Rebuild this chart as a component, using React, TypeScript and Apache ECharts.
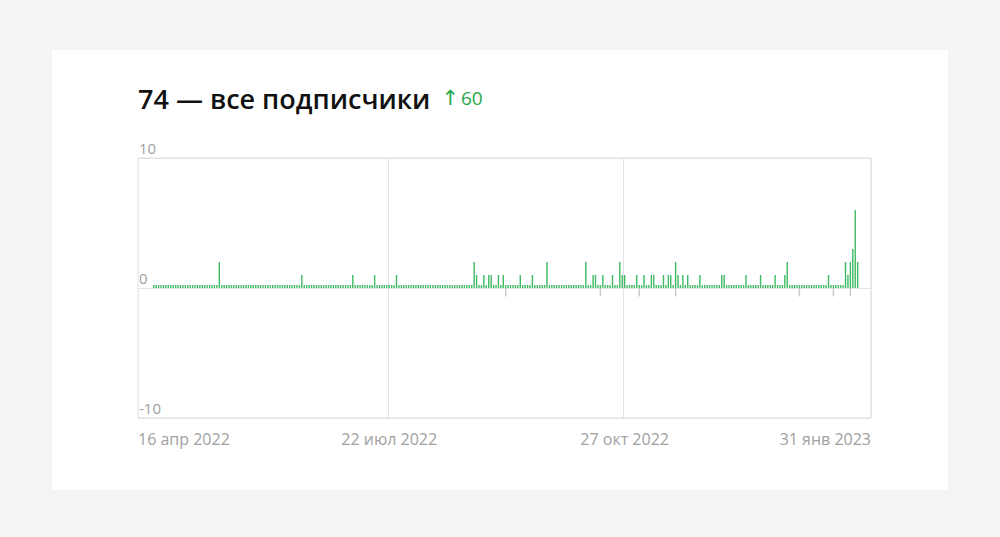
import React, { useEffect, useRef } from 'react';
import * as echarts from 'echarts';

// Headline numbers
const TOTAL_SUBSCRIBERS = 74;
const PERIOD_GROWTH = 60;

// Daily category axis: 10 Apr 2022 .. 5 Feb 2023 (a few empty days pad each side)
const AXIS_START_UTC = Date.UTC(2022, 3, 10);
const AXIS_DAYS = 302;
// Days that carry data: 16 Apr 2022 .. 31 Jan 2023
const DATA_FIRST_INDEX = 6;
const DATA_DAYS = 291;

// New subscribers: day offset from 16 Apr 2022 and count for that day
const joinDays = [
  27, 61, 82, 91, 100, 132, 133, 136, 138, 139, 142, 144, 151, 156, 162, 178, 181, 182, 185, 189,
  192, 193, 194, 199, 202, 205, 206, 210, 212, 213, 215, 216, 218, 220, 225, 234, 235, 244, 250,
  256, 260, 261, 278, 285, 286, 287, 288, 289, 290,
];
const joinCounts = [
  2, 1, 1, 1, 1, 2, 1, 1, 1, 1, 1, 1, 1, 1, 2, 2, 1, 1, 1, 1,
  2, 1, 1, 1, 1, 1, 1, 1, 1, 1, 2, 1, 1, 1, 1, 1, 1, 1, 1,
  1, 1, 2, 1, 2, 1, 2, 3, 6, 2,
];

// Unsubscribes: day offset from 16 Apr 2022 and drawn value
const leaveDays = [145, 184, 200, 215, 266, 280, 287];
const leaveValues = [-0.65, -0.65, -0.65, -0.65, -0.65, -0.65, -0.65];

// Dates that get an x label, and dates that get a vertical guide
const labelDates = ['2022-04-16', '2022-07-22', '2022-10-27', '2023-01-31'];
const guideDates = ['2022-07-22', '2022-10-27'];

const Y_MIN = -10;
const Y_MAX = 10;
const Y_STEP = 10;

const MONTHS = ['янв', 'фев', 'мар', 'апр', 'май', 'июн', 'июл', 'авг', 'сен', 'окт', 'ноя', 'дек'];

const GRID = { left: 138, top: 158, width: 733, height: 260 };
const FONT = '"Open Sans", "Noto Sans", sans-serif';

function isoDay(i: number): string {
  return new Date(AXIS_START_UTC + i * 86400000).toISOString().slice(0, 10);
}

function ruDate(iso: string): string {
  const [y, m, d] = iso.split('-').map(Number);
  return `${d} ${MONTHS[m - 1]} ${y}`;
}

const categories = Array.from({ length: AXIS_DAYS }, (_, i) => isoDay(i));

const joined: (number | null)[] = categories.map((_, i) =>
  i >= DATA_FIRST_INDEX && i < DATA_FIRST_INDEX + DATA_DAYS ? 0 : null
);
joinDays.forEach((d, k) => {
  joined[DATA_FIRST_INDEX + d] = joinCounts[k];
});

const left: (number | null)[] = categories.map(() => null);
leaveDays.forEach((d, k) => {
  left[DATA_FIRST_INDEX + d] = leaveValues[k];
});

export default function App() {
  const ref = useRef<HTMLDivElement>(null);

  useEffect(() => {
    if (!ref.current) return;
    const chart = echarts.init(ref.current, undefined, { renderer: 'svg' });

    const band = GRID.width / AXIS_DAYS;
    const firstIdx = categories.indexOf(labelDates[0]);
    const lastIdx = categories.indexOf(labelDates[labelDates.length - 1]);
    const firstCenter = (firstIdx + 0.5) * band;
    const lastCenter = (lastIdx + 0.5) * band;

    // First and last date labels are pinned to the plot edges
    const axisData = categories.map((c, i) => {
      if (i === firstIdx) {
        return { value: c, textStyle: { align: 'left', padding: [0, 0, 0, -firstCenter] } };
      }
      if (i === lastIdx) {
        return {
          value: c,
          textStyle: { align: 'right', padding: [0, -(GRID.width - lastCenter), 0, 0] },
        };
      }
      return c;
    });

    chart.setOption({
      animation: false,
      title: {
        left: 138,
        top: 85,
        padding: 0,
        text: `{main|${TOTAL_SUBSCRIBERS} — все подписчики}{arrow|↑}{up|${PERIOD_GROWTH}}`,
        textStyle: {
          rich: {
            main: { fontSize: 27, fontWeight: 600, color: '#111111', fontFamily: FONT },
            arrow: {
              fontSize: 21,
              fontWeight: 'normal',
              color: '#25a84b',
              fontFamily: '"DejaVu Sans", sans-serif',
              padding: [0, 2, 1, 11],
            },
            up: { fontSize: 19, fontWeight: 'normal', color: '#25a84b', fontFamily: FONT, padding: [0, 0, 1, 0] },
          },
        },
      },
      grid: {
        ...GRID,
        show: true,
        borderColor: '#dcdcdc',
        borderWidth: 1,
        backgroundColor: 'transparent',
        outerBoundsMode: 'none',
      },
      xAxis: {
        type: 'category',
        data: axisData,
        boundaryGap: true,
        axisLine: { show: false },
        axisTick: { show: false },
        axisLabel: {
          interval: (_: number, v: string) => labelDates.includes(v),
          formatter: (v: string) => ruDate(v),
          color: '#a0a0a0',
          fontSize: 16,
          fontFamily: FONT,
          margin: 13,
        },
        splitLine: {
          show: true,
          interval: (_: number, v: string) => guideDates.includes(v),
          lineStyle: { color: '#e3e3e3', width: 1 },
        },
      },
      yAxis: {
        type: 'value',
        min: Y_MIN,
        max: Y_MAX,
        interval: Y_STEP,
        axisLine: { show: false },
        axisTick: { show: false },
        axisLabel: {
          inside: true,
          margin: 1,
          align: 'left',
          verticalAlign: 'bottom',
          lineHeight: 20,
          color: '#a0a0a0',
          fontSize: 15,
          fontFamily: FONT,
        },
        splitLine: { show: true, lineStyle: { color: '#e3e3e3', width: 1 } },
      },
      series: [
        {
          name: 'подписались',
          type: 'bar',
          data: joined,
          barWidth: 1.4,
          barGap: '-100%',
          barMinHeight: 3,
          itemStyle: { color: '#3dba62' },
        },
        {
          name: 'отписались',
          type: 'bar',
          data: left,
          barWidth: 1.4,
          barGap: '-100%',
          itemStyle: { color: '#c8c8c8' },
        },
      ],
    });

    return () => chart.dispose();
  }, []);

  return (
    <div
      style={{
        position: 'fixed',
        left: 0,
        top: 0,
        width: 1000,
        height: 537,
        background: '#f4f4f4',
      }}
    >
      <div
        style={{
          position: 'absolute',
          left: 52,
          top: 50,
          width: 896,
          height: 440,
          background: '#ffffff',
        }}
      />
      <div ref={ref} style={{ position: 'absolute', left: 0, top: 0, width: 1000, height: 537 }} />
    </div>
  );
}
